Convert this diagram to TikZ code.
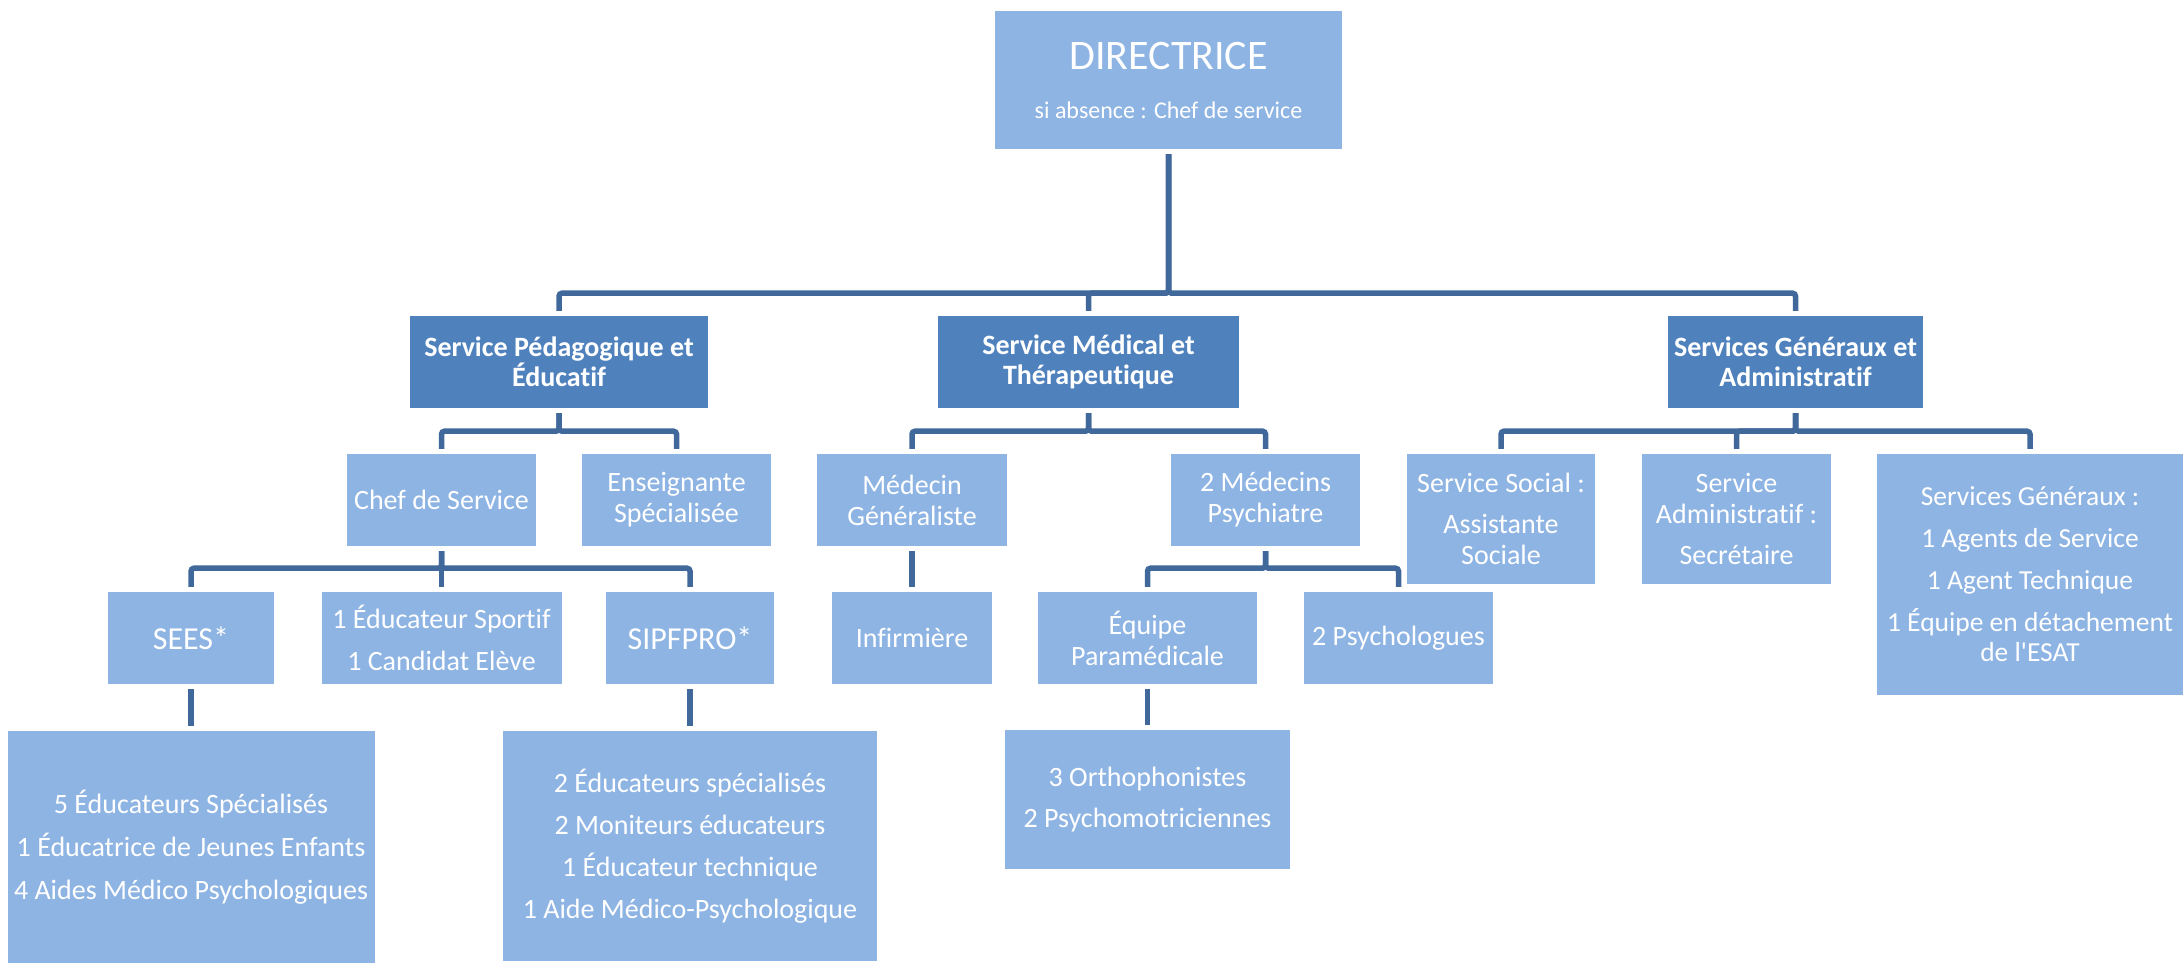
\documentclass[tikz,border=0pt]{standalone}
\usepackage{fontspec}
\setmainfont{Carlito}[Ligatures=NoCommon]
\definecolor{lightbox}{RGB}{142,180,227}
\definecolor{darkbox}{RGB}{79,129,189}
\definecolor{linecol}{RGB}{64,104,155}
\tikzset{
  box/.style={fill=lightbox, text=white, align=center, inner sep=2pt,
    font=\fontsize{28}{31}\selectfont},
  head/.style={box, fill=darkbox, minimum width=300, minimum height=92,
    font=\bfseries\fontsize{28}{30}\selectfont},
  conn/.style={draw=linecol, line width=5.5pt, rounded corners=3pt},
}
\begin{document}
\begin{tikzpicture}[x=1pt, y=-1pt]
  \useasboundingbox (0,0) rectangle (2183,963);

  % top
  \node[box, minimum width=347, minimum height=138, font=\fontsize{24}{49}\selectfont] (dir) at (1168.5,80)
    {{\fontsize{42}{49}\selectfont DIRECTRICE}\\si absence : Chef de service};

  % services
  \node[head, minimum width=298] (ped) at (559,362) {Service Pédagogique et\\Éducatif};
  \node[head, minimum width=301] (med) at (1088.5,362) {Service Médical et\\Thérapeutique};
  \node[head, minimum width=255] (gen) at (1795.5,362) {Services Généraux et\\Administratif};

  % third row
  \node[box, minimum width=189, minimum height=92] (chef) at (441.5,500) {Chef de Service};
  \node[box, minimum width=189, minimum height=92] (ens) at (676.5,500) {Enseignante\\Spécialisée};
  \node[box, minimum width=190, minimum height=92] (medg) at (912,500) {Médecin\\Généraliste};
  \node[box, minimum width=189, minimum height=92] (psy) at (1265.5,500) {2 Médecins\\Psychiatre};
  \node[box, minimum width=188, minimum height=130] (soc) at (1501,519)
    {Service Social :\\[10pt]Assistante\\Sociale};
  \node[box, minimum width=189, minimum height=130] (adm) at (1736.5,519)
    {Service\\Administratif :\\[10pt]Secrétaire};
  \node[box, font=\fontsize{27.5}{30}\selectfont, minimum width=306, minimum height=241] (sgen) at (2030,574.5)
    {Services Généraux :\\[12pt]1 Agents de Service\\[12pt]1 Agent Technique\\[12pt]1 Équipe en détachement\\de l\textquotesingle ESAT};

  % fourth row
  \node[box, font=\fontsize{32}{36}\selectfont, minimum width=166, minimum height=92] (sees) at (191,638) {SEES*};
  \node[box, minimum width=240, minimum height=92] (spo) at (441.5,638)
    {1 Éducateur Sportif\\[11pt]1 Candidat Elève};
  \node[box, font=\fontsize{32}{36}\selectfont, minimum width=168, minimum height=92] (sip) at (690,638) {SIPFPRO*};
  \node[box, minimum width=160, minimum height=92] (inf) at (912,638) {Infirmière};
  \node[box, minimum width=219, minimum height=92] (para) at (1147.5,638) {Équipe\\Paramédicale};
  \node[box, minimum width=189, minimum height=92] (psyc) at (1398.5,638) {2 Psychologues};

  % bottom row
  \node[box, minimum width=367, minimum height=232] (seesb) at (191,847)
    {5 Éducateurs Spécialisés\\[12pt]1 Éducatrice de Jeunes Enfants\\[12pt]4 Aides Médico Psychologiques};
  \node[box, minimum width=374, minimum height=230] (sipb) at (690,846)
    {2 Éducateurs spécialisés\\[11pt]2 Moniteurs éducateurs\\[11pt]1 Éducateur technique\\[11pt]1 Aide Médico-Psychologique};
  \node[box, minimum width=285, minimum height=139] (orth) at (1147.5,799.5)
    {3 Orthophonistes\\[10pt]2 Psychomotriciennes};

  % connectors
  \foreach \c in {ped,med,gen}
    \draw[conn] ([yshift=-5pt]dir.south) -- ++(0,139) -| ([yshift=5pt]\c.north);
  \foreach \c in {chef,ens}
    \draw[conn] ([yshift=-5pt]ped.south) -- ++(0,18) -| ([yshift=5pt]\c.north);
  \foreach \c in {medg,psy}
    \draw[conn] ([yshift=-5pt]med.south) -- ++(0,18) -| ([yshift=5pt]\c.north);
  \foreach \c in {soc,adm,sgen}
    \draw[conn] ([yshift=-5pt]gen.south) -- ++(0,18) -| ([yshift=5pt]\c.north);
  \foreach \c in {sees,spo,sip}
    \draw[conn] ([yshift=-5pt]chef.south) -- ++(0,17) -| ([yshift=5pt]\c.north);
  \foreach \c in {para,psyc}
    \draw[conn] ([yshift=-5pt]psy.south) -- ++(0,17) -| ([yshift=5pt]\c.north);
  \draw[conn] ([yshift=-5pt]sees.south) -- ([yshift=5pt]seesb.north);
  \draw[conn] ([yshift=-5pt]sip.south) -- ([yshift=5pt]sipb.north);
  \draw[conn] ([yshift=-5pt]medg.south) -- ([yshift=5pt]inf.north);
  \draw[conn] ([yshift=-5pt]para.south) -- ([yshift=5pt]orth.north);
\end{tikzpicture}
\end{document}
